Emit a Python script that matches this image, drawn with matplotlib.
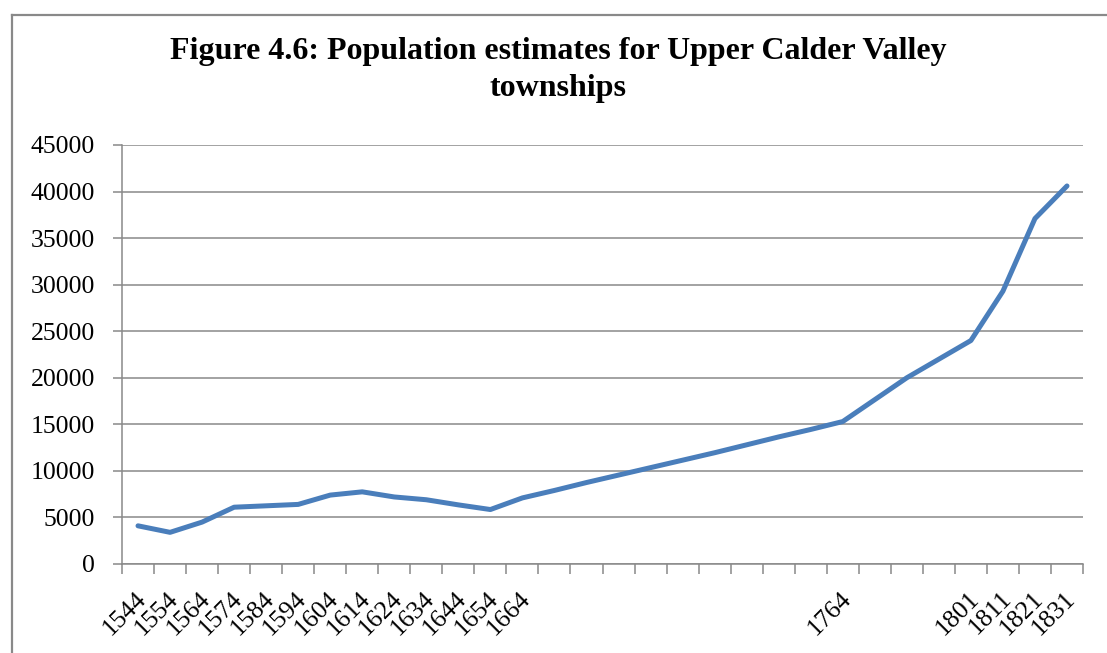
import matplotlib.pyplot as plt
import matplotlib.transforms as mtransforms
from matplotlib.lines import Line2D

# categories on the x axis (blank years are not labelled in the original)
years = [1544, 1554, 1564, 1574, 1584, 1594, 1604, 1614, 1624, 1634, 1644, 1654, 1664,
         1674, 1684, 1694, 1704, 1714, 1724, 1734, 1744, 1754, 1764,
         1774, 1784, 1794, 1801, 1811, 1821, 1831]
population = [4100, 3400, 4500, 6100, 6250, 6400, 7400, 7750, 7200, 6900, 6350, 5850, 7100,
              7900, 8750, 9550, 10350, 11150, 11950, 12800, 13650, 14450, 15300,
              17650, 20000, 22000, 24000, 29300, 37100, 40600]
labelled = [1544, 1554, 1564, 1574, 1584, 1594, 1604, 1614, 1624, 1634, 1644, 1654, 1664,
            1764, 1801, 1811, 1821, 1831]
yticks = [0, 5000, 10000, 15000, 20000, 25000, 30000, 35000, 40000, 45000]

plt.rcParams['font.family'] = ['Liberation Serif', 'DejaVu Serif']
grey = '#898989'

fig = plt.figure(figsize=(11.07, 6.53), dpi=100)
W, H = 1107, 653
ax = fig.add_axes([122 / W, 1 - 564 / H, (1083 - 122) / W, (564 - 145) / H])

x = list(range(len(years)))
ax.plot(x, population, color='#4a7ebb', lw=3.6,
        solid_capstyle='round', solid_joinstyle='round', zorder=3)

ax.set_xlim(-0.5, len(years) - 0.5)
ax.set_ylim(0, 45000)
ax.set_yticks(yticks)
ax.set_yticklabels([str(v) for v in yticks], fontsize=18.5)
ax.grid(axis='y', color=grey, lw=1.1)
ax.set_axisbelow(True)

for s in ['top', 'right']:
    ax.spines[s].set_visible(False)
for s in ['left', 'bottom']:
    ax.spines[s].set_color(grey)
    ax.spines[s].set_linewidth(1.1)

ax.tick_params(axis='y', length=6.5, width=1.1, color=grey, pad=13)

# category labels at centres, tick marks between categories
ax.set_xticks(x)
ax.set_xticklabels([str(y) if y in labelled else '' for y in years], fontsize=18.5,
                   rotation=45, ha='right', va='top', rotation_mode='anchor')
ax.tick_params(axis='x', which='major', length=0, pad=17)
ax.set_xticks([i - 0.5 for i in range(len(years) + 1)], minor=True)
ax.tick_params(axis='x', which='minor', length=7, width=1.1, color=grey)
shift = mtransforms.ScaledTranslation(-3 / 100, 0, fig.dpi_scale_trans)
for lab in ax.get_xticklabels():
    lab.set_transform(lab.get_transform() + shift)

fig.text(558.5 / W, 1 - 59 / H, 'Figure 4.6: Population estimates for Upper Calder Valley',
         ha='center', va='baseline', fontsize=23, fontweight='bold')
fig.text(558.5 / W, 1 - 96 / H, 'townships',
         ha='center', va='baseline', fontsize=23, fontweight='bold')

# chart frame (top and left edges visible)
fig.add_artist(Line2D([12 / W, 12 / W], [0, 1 - 15 / H], transform=fig.transFigure,
                      color=grey, lw=1.6))
fig.add_artist(Line2D([12 / W, 1], [1 - 15 / H, 1 - 15 / H], transform=fig.transFigure,
                      color=grey, lw=1.6))

fig.savefig('out.png', dpi=100)
